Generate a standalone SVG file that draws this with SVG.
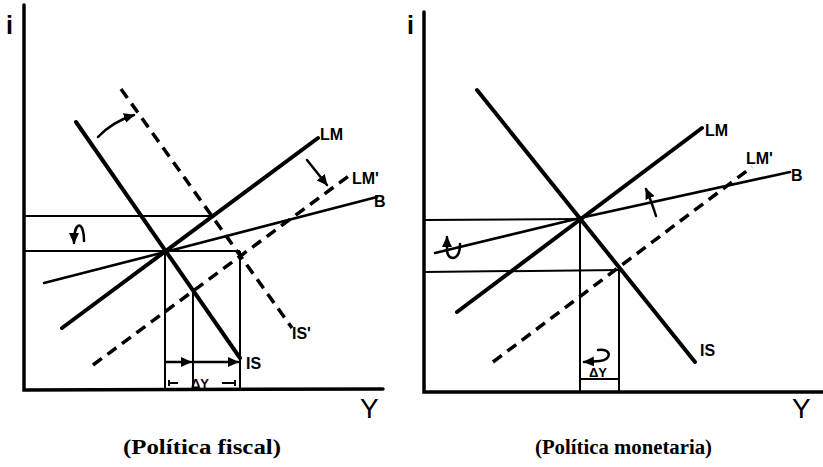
<svg xmlns="http://www.w3.org/2000/svg" width="823" height="467" viewBox="0 0 823 467">
<style>
.ax{fill:none;stroke:#000;stroke-width:3.5;stroke-linecap:round;stroke-linejoin:miter}
.cv{fill:none;stroke:#000;stroke-width:4;stroke-linecap:round}
.ds{fill:none;stroke:#000;stroke-width:3.5;stroke-dasharray:11 7}
.b{fill:none;stroke:#000;stroke-width:2.6;stroke-linecap:round}
.g{fill:none;stroke:#000;stroke-width:2}
.ar{fill:none;stroke:#000;stroke-width:2.5;stroke-linecap:round}
.lb{font-family:"Liberation Sans",Arial,sans-serif;font-weight:bold;font-size:16px;fill:#000}
.axl{font-family:"Liberation Sans",Arial,sans-serif;font-size:28px;fill:#000}
.il{font-family:"Liberation Sans",Arial,sans-serif;font-weight:bold;font-size:25px;fill:#000}
.cap{font-family:"Liberation Serif","Times New Roman",serif;font-weight:bold;font-size:20px;fill:#000}
.sm{font-family:"Liberation Sans",Arial,sans-serif;font-weight:bold;font-size:13px;fill:#000}
</style>
<defs>
<marker id="ah" markerUnits="userSpaceOnUse" markerWidth="12" markerHeight="10" refX="10" refY="5" orient="auto-start-reverse">
<path d="M0,0 L11,5 L0,10 Z" fill="#000"/>
</marker>
</defs>

<g id="fiscal-panel">
<g id="axes-left">
<path class="ax" d="M24,5 L24,390 L383,389"/>
<text class="il" x="6" y="34">i</text>
<text class="axl" x="360" y="418">Y</text>
</g>
<g id="IS-left"><path class="cv" d="M76,122 L240,358"/><text class="lb" x="246" y="369">IS</text></g>
<g id="ISp-left"><path class="ds" d="M121,89 L292,328"/><text class="lb" x="292" y="339">IS'</text></g>
<g id="LM-left"><path class="cv" d="M62,328 L318,138"/><text class="lb" x="320" y="140">LM</text></g>
<g id="LMp-left"><path class="ds" d="M93,365 L350,175"/><text class="lb" x="352" y="184">LM'</text></g>
<g id="B-left"><path class="b" d="M44,283 L165,252 L377,197"/><text class="lb" x="374" y="207">B</text></g>
<g id="guides-left">
<path class="g" d="M24,216 L212,216"/>
<path class="g" d="M24,251 L240,251"/>
<path class="g" d="M165,252 L165,389 M193,290 L193,389 M240,251 L240,389"/>
</g>
<g id="connectors-left">
<path class="ar" d="M166,362 L191,362" marker-end="url(#ah)"/>
<path class="ar" d="M194,362 L238,362" marker-end="url(#ah)"/>
<path class="ar" d="M98,137 Q112,122 134,115" marker-end="url(#ah)"/>
<path class="ar" d="M307,160 L327,185" marker-end="url(#ah)"/>
<path class="ar" d="M84,241 C84,220 74,220 74,243" marker-end="url(#ah)"/>
<path class="g" d="M169,380 L169,386 M169,383 L178,383 M222,383 L235,383 M235,380 L235,386"/>
<text class="sm" x="200" y="388" text-anchor="middle">ΔY</text>
</g>
</g>

<g id="monetary-panel">
<g id="axes-right">
<path class="ax" d="M424,12 L424,392 L823,392"/>
<text class="il" x="407" y="34">i</text>
<text class="axl" x="792" y="418">Y</text>
</g>
<g id="IS-right"><path class="cv" d="M477,90 L695,362"/><text class="lb" x="700" y="356">IS</text></g>
<g id="LM-right"><path class="cv" d="M457,312 L702,128"/><text class="lb" x="705" y="136">LM</text></g>
<g id="LMp-right"><path class="ds" d="M493,362 L752,167"/><text class="lb" x="746" y="164">LM'</text></g>
<g id="B-right"><path class="b" d="M435,253 L580,218 L790,172"/><text class="lb" x="791" y="181">B</text></g>
<g id="guides-right">
<path class="g" d="M424,220 L580,219"/>
<path class="g" d="M424,272 L620,270"/>
<path class="g" d="M580,218 L580,392 M619,270 L619,392 M580,379 L619,379"/>
</g>
<g id="connectors-right">
<path class="ar" d="M447,237 L447,251 Q448,258 453,258 Q460,257 460,244" marker-start="url(#ah)"/>
<path class="ar" d="M656,216 Q651,200 646,189" marker-end="url(#ah)"/>
<path class="ar" d="M598,350 C612,348 612,360 600,361 L584,362" marker-end="url(#ah)"/>
<text class="sm" x="598" y="377" text-anchor="middle">ΔY</text>
</g>
</g>

<text class="cap" x="123" y="454" textLength="158" lengthAdjust="spacingAndGlyphs">(Política fiscal)</text>
<text class="cap" x="535" y="454" textLength="177" lengthAdjust="spacingAndGlyphs">(Política monetaria)</text>
</svg>
